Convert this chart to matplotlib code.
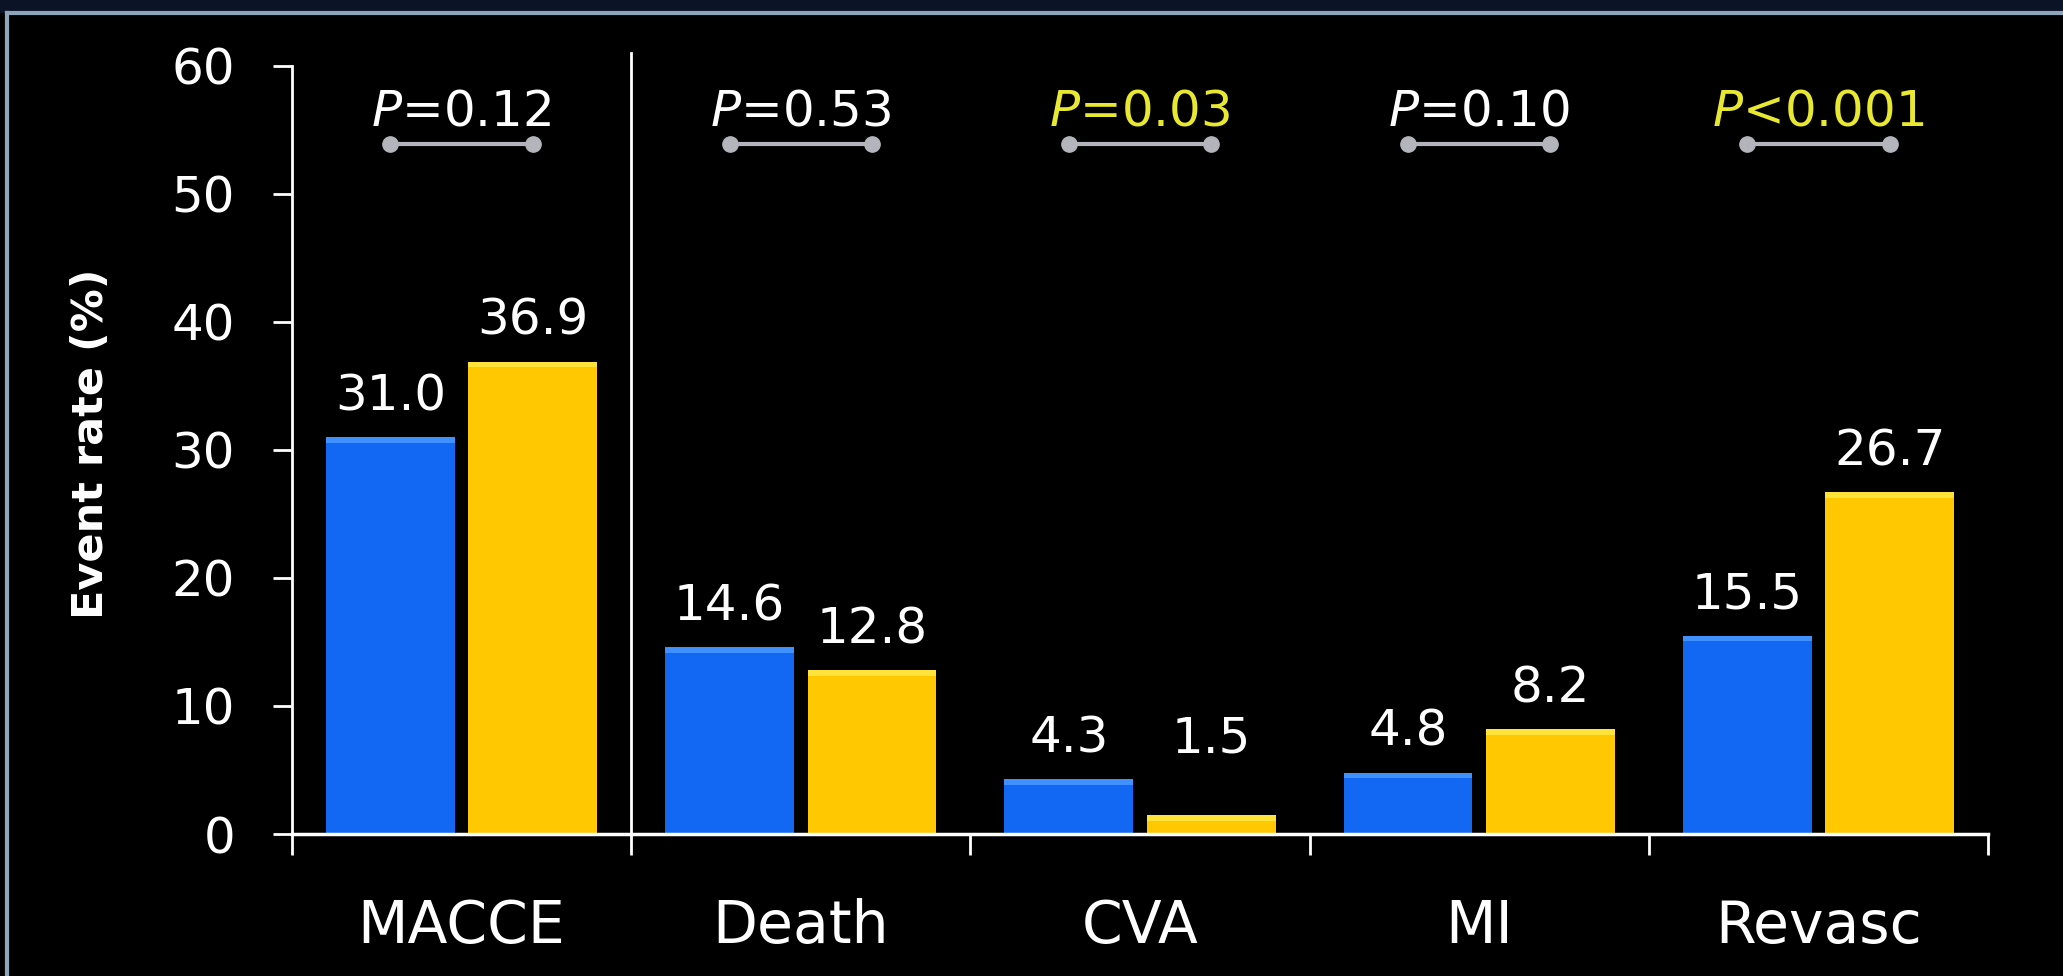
import numpy as np
import matplotlib
matplotlib.use("Agg")
import matplotlib.pyplot as plt
from matplotlib.patches import Rectangle
from matplotlib.lines import Line2D

categories = ["MACCE", "Death", "CVA", "MI", "Revasc"]
group_a = [31.0, 14.6, 4.3, 4.8, 15.5]   # blue
group_b = [36.9, 12.8, 1.5, 8.2, 26.7]   # yellow
p_labels = ["=0.12", "=0.53", "=0.03", "=0.10", "<0.001"]
p_significant = [False, False, True, False, True]
yticks = [0, 10, 20, 30, 40, 50, 60]

blue = "#1268f2"
blue_top = "#4090ff"
yellow = "#ffc800"
yellow_top = "#ffe23a"
sig_yellow = "#e8e830"
white = "white"

fig = plt.figure(figsize=(20.63, 9.76), dpi=100, facecolor="black")
ax = fig.add_axes([292 / 2063, 1 - 834 / 976, (1988 - 292) / 2063, (834 - 53) / 976])
ax.set_facecolor("black")

x = np.arange(len(categories)) + 0.5
w = 0.38
off = 0.21

ax.bar(x - off, group_a, width=w, color=blue, zorder=2)
ax.bar(x + off, group_b, width=w, color=yellow, zorder=2)
# lighter rim along the bar tops
strip = 0.45
ax.bar(x - off, strip, bottom=np.array(group_a) - strip, width=w, color=blue_top, zorder=3)
ax.bar(x + off, strip, bottom=np.array(group_b) - strip, width=w, color=yellow_top, zorder=3)

min_label = 4.3
for xi, a, b in zip(x, group_a, group_b):
    ax.text(xi - off, max(a, min_label) + 2.1, f"{a:.1f}", ha="center", va="baseline",
            color=white, fontsize=36)
    ax.text(xi + off, max(b, min_label) + 2.1, f"{b:.1f}", ha="center", va="baseline",
            color=white, fontsize=36)

# P-value brackets
for xi, lab, sig in zip(x, p_labels, p_significant):
    col = sig_yellow if sig else white
    ax.plot([xi - off, xi + off], [53.9, 53.9], color="#b4b4bc", lw=3,
            marker="o", ms=11, solid_capstyle="round", zorder=4, clip_on=False)
    ax.text(xi, 55.3, r"$P$" + lab, ha="center", va="baseline", color=col,
            fontsize=36, clip_on=False)

# separator after MACCE
ax.plot([1, 1], [0, 61], color=white, lw=2, zorder=1, clip_on=False)

ax.set_xlim(0, 5)
ax.set_ylim(0, 61)
ax.set_yticks(yticks)
ax.set_yticklabels([str(t) for t in yticks])
ax.set_xticks(np.arange(0, 6))
ax.set_xticklabels([])
ax.set_xticks(x, minor=True)
ax.set_xticklabels(categories, minor=True)

for s in ["top", "right"]:
    ax.spines[s].set_visible(False)
ax.spines["left"].set_bounds(0, 60)
ax.spines["left"].set_color(white)
ax.spines["bottom"].set_color(white)
ax.spines["left"].set_linewidth(2)
ax.spines["bottom"].set_linewidth(2.5)

ax.tick_params(axis="y", direction="out", length=14, width=2, color=white,
               labelcolor=white, labelsize=36, pad=27)
ax.tick_params(axis="x", which="major", direction="out", length=15, width=2, color=white)
ax.tick_params(axis="x", which="minor", length=0, labelcolor=white, labelsize=42, pad=46)

ax.set_ylabel("Event rate (%)", color=white, fontsize=31, fontweight="bold")
ax.yaxis.set_label_coords(-0.106, 0.5)

# slide frame
fig.patches.append(Rectangle((0, 1 - 13 / 976), 1, 13 / 976, transform=fig.transFigure,
                             facecolor="#0b1326", edgecolor="none"))
fig.lines.append(Line2D([7 / 2063, 1], [1 - 13 / 976, 1 - 13 / 976], transform=fig.transFigure,
                        color="#8fa4b8", lw=3))
fig.lines.append(Line2D([7 / 2063, 7 / 2063], [0, 1 - 13 / 976], transform=fig.transFigure,
                        color="#8fa4b8", lw=3))

fig.savefig("out.png", dpi=100, facecolor="black")
